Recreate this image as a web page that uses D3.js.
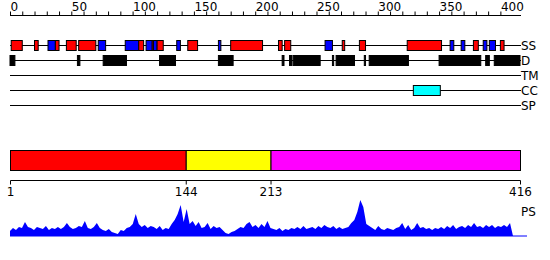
<!DOCTYPE html>
<html><head><meta charset="utf-8">
<script src="https://cdn.jsdelivr.net/npm/d3@7"></script>
<style>body{margin:0;background:#fff}svg{display:block}text{font-family:"DejaVu Sans",sans-serif}</style>
</head><body>
<script>
const seqLength = 416;
const topTicks = [0,50,100,150,200,250,300,350,400];
const trackNames = ["SS","D","TM","CC","SP"];
// secondary structure: [start, end, type] H=helix (red), E=strand (blue)
const ssStart = [1,20,31,37,46,56,72,94,105,111,116,117,120,136,145,170,180,219,224,257,271,285,324,359,368,378,386,391,400];
const ssEnd   = [10,23,37,40,54,70,78,105,109,116,117.5,120,125,139,153,172,206,222,229,263,273,290,352,362,371,382,389,396,403];
const ssType  = ["H","H","E","H","H","H","E","E","H","E","H","E","H","E","H","E","H","H","H","E","H","H","H","E","E","H","E","E","H"];
// disorder regions
const dStart = [0,55,76,122,170,222,228,231,263,266,289,293,350,388,395];
const dEnd   = [4,57,95,135,182,223.5,230,253,264,281,290,325,384,391,416];
// coiled coil
const ccStart = [329];
const ccEnd = [351];
// domains
const domainBounds = [1,144,213,416];
const domainColors = ["#ff0000","#ffff00","#ff00ff"];
// profile (sampled evenly along the sequence)
const profile = [5,8,6,9,8,14,9,8,6,9,8,
 7,10,6,8,7,9,7,9,13,9,
 7,8,10,9,15,8,7,9,13,8,
 6,5,7,4,3,2,6,5,8,9,
 12,22,12,9,11,8,10,9,7,10,
 6,8,7,12,16,22,31,14,27,12,
 15,10,14,8,9,13,7,10,8,9,
 6,3,2,4,5,7,9,8,12,14,
 9,11,8,12,9,15,8,7,6,8,
 5,7,6,8,7,9,7,10,7,8,
 9,7,10,8,11,9,8,10,7,9,
 7,8,9,13,16,24,36,29,12,10,
 8,6,10,7,6,8,7,6,8,9,
 13,7,11,6,8,13,8,9,7,8,
 6,8,7,9,7,10,8,11,7,9,
 10,8,11,9,13,9,10,8,11,9,
 11,8,10,9,11,9,13,0];

const W=550,H=260;
const svg=d3.select("body").append("svg").attr("width",W).attr("height",H);
const x=d3.scaleLinear().domain([0,seqLength]).range([10,520]);
const xd=d3.scaleLinear().domain([1,seqLength]).range([10,520]);
const ssColor={H:"#ff0000",E:"#0000ff"};

// top axis
const topAxis=d3.axisTop(x).tickValues(d3.range(0,401,10)).tickSize(4).tickFormat("");
const ta=svg.append("g").attr("transform","translate(0,15.5)").call(topAxis);
ta.select(".domain").attr("d",`M${x(0)},0H${x(seqLength)+1}`).attr("stroke","#000");
ta.selectAll(".tick line").attr("stroke","#000");
svg.append("g").selectAll("text").data(topTicks).join("text")
  .attr("x",d=>x(d)+0.5).attr("y",11).attr("font-size",12).attr("fill","#000").text(d=>d);

// tracks
const trackY=d3.scalePoint().domain(trackNames).range([45.5,105.5]);
const tg=svg.append("g");
trackNames.forEach(n=>{
  tg.append("line").attr("x1",x(0)).attr("x2",x(seqLength)+1).attr("y1",trackY(n)).attr("y2",trackY(n)).attr("stroke","#000");
  tg.append("text").attr("x",521).attr("y",trackY(n)).attr("dy","0.36em").attr("font-size",12).attr("fill","#000").text(n);
});
const ss=ssStart.map((s,i)=>({s,e:ssEnd[i],t:ssType[i]}));
tg.selectAll("rect.ss").data(ss).join("rect").attr("class","ss")
  .attr("x",d=>x(d.s)).attr("width",d=>Math.max(1,x(d.e)-x(d.s)))
  .attr("y",trackY("SS")-5).attr("height",10)
  .attr("fill",d=>ssColor[d.t]).attr("stroke","#000").attr("stroke-width",1);
const dd=dStart.map((s,i)=>({s,e:dEnd[i]}));
tg.selectAll("rect.d").data(dd).join("rect").attr("class","d")
  .attr("x",d=>x(d.s)).attr("width",d=>Math.max(1,x(d.e)-x(d.s)))
  .attr("y",trackY("D")-5).attr("height",10)
  .attr("fill","#000").attr("stroke","#000");
const cc=ccStart.map((s,i)=>({s,e:ccEnd[i]}));
tg.selectAll("rect.cc").data(cc).join("rect").attr("class","cc")
  .attr("x",d=>x(d.s)).attr("width",d=>x(d.e)-x(d.s))
  .attr("y",trackY("CC")-5).attr("height",10)
  .attr("fill","#00ffff").attr("stroke","#000");

// domains
const doms=domainColors.map((c,i)=>({s:domainBounds[i],e:domainBounds[i+1],c}));
svg.append("g").selectAll("rect").data(doms).join("rect")
  .attr("x",d=>xd(d.s)+0.5).attr("width",d=>xd(d.e)-xd(d.s))
  .attr("y",150.5).attr("height",20).attr("fill",d=>d.c).attr("stroke","#000");

// bottom axis
const ba=svg.append("g").attr("transform","translate(0,180.5)")
  .call(d3.axisBottom(xd).tickValues(domainBounds).tickSize(4).tickPadding(4));
ba.select(".domain").attr("d",`M${xd(1)+0.5},0H${xd(seqLength)+0.5}`).attr("stroke","#000");
ba.selectAll(".tick line").attr("stroke","#000");
ba.selectAll(".tick text").attr("font-size",12).attr("font-family","DejaVu Sans").attr("fill","#000").attr("dy","0.6em");
svg.append("text").attr("x",521).attr("y",216).attr("font-size",12).attr("fill","#000").text("PS");

// profile
const xp=d3.scaleLinear().domain([0,profile.length-1]).range([10,513]);
const yp=d3.scaleLinear().domain([0,40]).range([236,196]);
svg.append("line").attr("x1",10).attr("x2",527).attr("y1",236).attr("y2",236).attr("stroke","#0000ff");
svg.append("path").datum(profile)
  .attr("d",d3.area().x((d,i)=>xp(i)).y0(yp(0)).y1(d=>yp(d)))
  .attr("fill","#0000ff");
</script>
</body></html>
